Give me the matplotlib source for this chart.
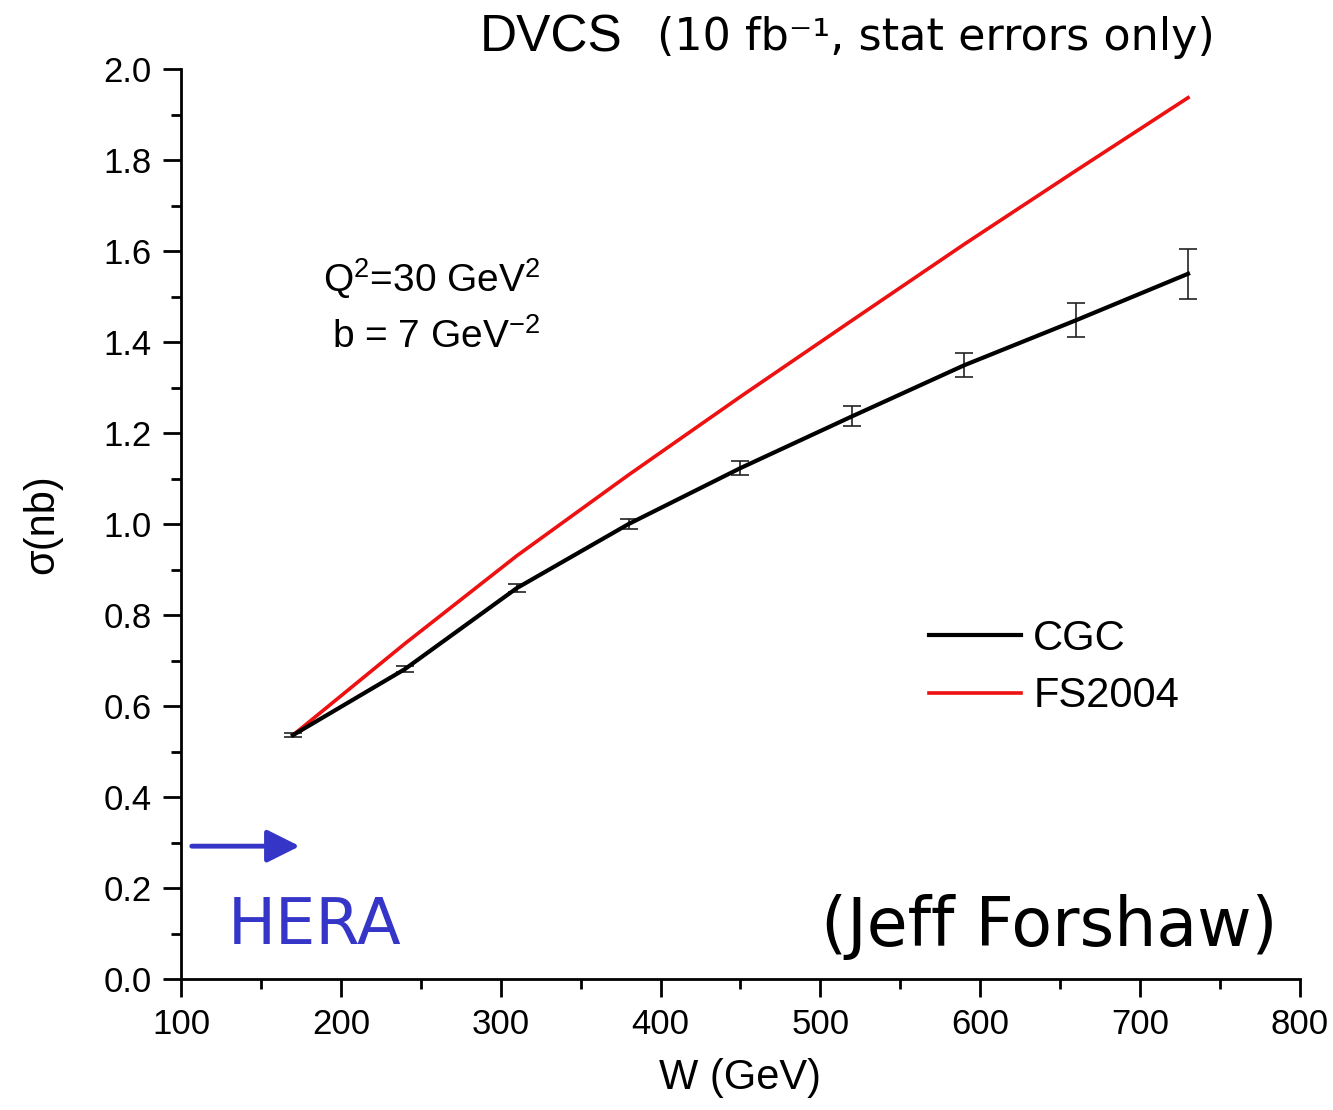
import numpy as np
import matplotlib
matplotlib.use("Agg")
import matplotlib.pyplot as plt
from matplotlib.ticker import MultipleLocator

# ========================
# DATA
# ========================
w_gev = [170, 240, 310, 380, 450, 520, 590, 660, 730]
sigma_cgc = [0.536, 0.681, 0.859, 1.000, 1.123, 1.237, 1.349, 1.448, 1.550]
err_cgc = [0.004, 0.006, 0.009, 0.010, 0.015, 0.022, 0.026, 0.037, 0.055]
sigma_fs2004 = [0.536, 0.737, 0.930, 1.108, 1.280, 1.448, 1.615, 1.777, 1.937]

# HERA arrow (start W, end W, sigma level)
hera_arrow_x = [105, 176]
hera_arrow_y = 0.292

plt.rcParams['font.family'] = ['Liberation Sans', 'DejaVu Sans']
plt.rcParams['mathtext.fontset'] = 'custom'
plt.rcParams['mathtext.rm'] = 'Liberation Sans'

fig = plt.figure(figsize=(13.33, 11.10), dpi=100)
ax = fig.add_axes([0.1358, 0.118, 0.8394, 0.8198])

ax.plot(w_gev, sigma_fs2004, color='#ee1111', lw=2.6, label='FS2004', zorder=2)
ax.errorbar(w_gev, sigma_cgc, yerr=err_cgc, fmt='none', ecolor='#222222',
            elinewidth=1.2, capsize=6.5, capthick=1.2, zorder=3)
ax.plot(w_gev, sigma_cgc, color='black', lw=3.0, label='CGC', zorder=4)

ax.set_xlim(100, 800)
ax.set_ylim(0, 2.0)
ax.xaxis.set_major_locator(MultipleLocator(100))
ax.xaxis.set_minor_locator(MultipleLocator(50))
ax.yaxis.set_major_locator(MultipleLocator(0.2))
ax.yaxis.set_minor_locator(MultipleLocator(0.1))
ax.yaxis.set_major_formatter(plt.FuncFormatter(lambda v, p: f"{v:.1f}"))

for s in ['top', 'right']:
    ax.spines[s].set_visible(False)
for s in ['left', 'bottom']:
    ax.spines[s].set_linewidth(2.0)
ax.tick_params(which='major', direction='out', length=13, width=2.0,
               labelsize=25, pad=8)
ax.tick_params(which='minor', direction='out', length=7, width=2.0)

ax.set_xlabel('W (GeV)', fontsize=30, labelpad=12)
ax.set_ylabel('σ(nb)', fontsize=30, labelpad=30)

# legend
handles, labels = ax.get_legend_handles_labels()
order = [1, 0]
ax.legend([handles[i] for i in order], [labels[i] for i in order],
          loc='upper left', bbox_to_anchor=(0.635, 0.437), frameon=False,
          fontsize=30, handlelength=2.2, handletextpad=0.3, labelspacing=0.42)

# parameter text
ax.text(0.224, 0.77, r'Q$^{2}$=30 GeV$^{2}$', transform=ax.transAxes,
        fontsize=28, ha='center', va='center')
ax.text(0.228, 0.705, r'b = 7 GeV$^{-2}$', transform=ax.transAxes,
        fontsize=28, ha='center', va='center')

# title
fig.text(0.360, 0.966, 'DVCS', fontsize=37, ha='left', va='center')
fig.text(0.493, 0.966, '(10 fb⁻¹, stat errors only)', fontsize=32,
         ha='left', va='center', family='DejaVu Sans')

# HERA arrow + label
ax.annotate('', xy=(hera_arrow_x[1], hera_arrow_y),
            xytext=(hera_arrow_x[0], hera_arrow_y),
            arrowprops=dict(arrowstyle='-|>,head_length=2.0,head_width=1.0',
                            color='#3535c8', lw=3.5))
ax.text(0.042, 0.058, 'HERA', transform=ax.transAxes, fontsize=46,
        color='#3535c8', family='DejaVu Sans', ha='left', va='center')

ax.text(0.98, 0.057, '(Jeff Forshaw)', transform=ax.transAxes, fontsize=48,
        color='black', family='DejaVu Sans', ha='right', va='center')

fig.savefig('out.png', dpi=100, facecolor='white')
